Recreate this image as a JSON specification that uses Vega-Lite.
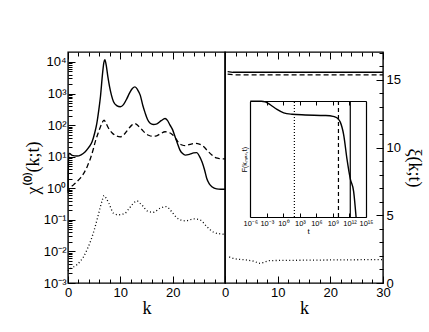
{
  "$schema": "https://vega.github.io/schema/vega-lite/v6.json",
  "padding": {"left": 23, "top": 50, "right": 5, "bottom": 5},
  "background": "white",
  "datasets": {
    "chi": [
      {"k": 0.0, "v": 0.794, "s": "a"}, {"k": 0.15, "v": 12.02, "s": "a"}, {"k": 0.3, "v": 12.59, "s": "a"}, {"k": 0.8, "v": 10.96, "s": "a"},
      {"k": 1.7, "v": 10.47, "s": "a"}, {"k": 2.5, "v": 11.48, "s": "a"}, {"k": 3.3, "v": 14.45, "s": "a"}, {"k": 4.0, "v": 19.95, "s": "a"},
      {"k": 4.6, "v": 29.51, "s": "a"}, {"k": 5.1, "v": 56.23, "s": "a"}, {"k": 5.5, "v": 112.2, "s": "a"}, {"k": 5.9, "v": 316.2, "s": "a"},
      {"k": 6.2, "v": 794.3, "s": "a"}, {"k": 6.6, "v": 4266, "s": "a"}, {"k": 6.85, "v": 9550, "s": "a"}, {"k": 7.05, "v": 11749, "s": "a"},
      {"k": 7.3, "v": 7943, "s": "a"}, {"k": 7.6, "v": 3548, "s": "a"}, {"k": 7.95, "v": 1622, "s": "a"}, {"k": 8.3, "v": 891.3, "s": "a"},
      {"k": 8.7, "v": 549.5, "s": "a"}, {"k": 9.3, "v": 416.9, "s": "a"}, {"k": 10.0, "v": 380.2, "s": "a"}, {"k": 10.6, "v": 446.7, "s": "a"},
      {"k": 11.25, "v": 691.8, "s": "a"}, {"k": 11.8, "v": 1072, "s": "a"}, {"k": 12.3, "v": 1445, "s": "a"}, {"k": 12.8, "v": 1622, "s": "a"},
      {"k": 13.3, "v": 1318, "s": "a"}, {"k": 13.8, "v": 891.3, "s": "a"}, {"k": 14.3, "v": 416.9, "s": "a"}, {"k": 14.75, "v": 239.9, "s": "a"},
      {"k": 15.2, "v": 151.4, "s": "a"}, {"k": 15.7, "v": 114.8, "s": "a"}, {"k": 16.3, "v": 104.7, "s": "a"}, {"k": 17.0, "v": 109.6, "s": "a"},
      {"k": 17.8, "v": 138.0, "s": "a"}, {"k": 18.55, "v": 162.2, "s": "a"}, {"k": 19.0, "v": 141.3, "s": "a"}, {"k": 19.5, "v": 100, "s": "a"},
      {"k": 20.0, "v": 70.79, "s": "a"}, {"k": 20.46, "v": 42.66, "s": "a"}, {"k": 21.0, "v": 23.99, "s": "a"}, {"k": 21.4, "v": 16.22, "s": "a"},
      {"k": 21.9, "v": 12.59, "s": "a"}, {"k": 22.4, "v": 11.22, "s": "a"}, {"k": 23.3, "v": 12.02, "s": "a"}, {"k": 24.0, "v": 13.18, "s": "a"},
      {"k": 24.6, "v": 13.49, "s": "a"}, {"k": 25.1, "v": 10.47, "s": "a"}, {"k": 25.6, "v": 6.918, "s": "a"}, {"k": 26.1, "v": 3.802, "s": "a"},
      {"k": 26.5, "v": 2.089, "s": "a"}, {"k": 27.0, "v": 1.38, "s": "a"}, {"k": 27.5, "v": 1.122, "s": "a"}, {"k": 28.4, "v": 0.955, "s": "a"},
      {"k": 29.2, "v": 0.933, "s": "a"}, {"k": 30.0, "v": 0.933, "s": "a"},
      {"k": 0.0, "v": 0.708, "s": "b"}, {"k": 0.3, "v": 1.0, "s": "b"}, {"k": 1.0, "v": 1.259, "s": "b"}, {"k": 1.7, "v": 1.622, "s": "b"},
      {"k": 2.4, "v": 2.138, "s": "b"}, {"k": 3.0, "v": 2.951, "s": "b"}, {"k": 3.7, "v": 5.012, "s": "b"}, {"k": 4.3, "v": 8.913, "s": "b"},
      {"k": 4.8, "v": 16.6, "s": "b"}, {"k": 5.2, "v": 29.51, "s": "b"}, {"k": 5.7, "v": 52.48, "s": "b"}, {"k": 6.2, "v": 89.13, "s": "b"},
      {"k": 6.6, "v": 125.9, "s": "b"}, {"k": 6.9, "v": 144.5, "s": "b"}, {"k": 7.2, "v": 120.2, "s": "b"}, {"k": 7.8, "v": 77.62, "s": "b"},
      {"k": 8.4, "v": 57.54, "s": "b"}, {"k": 9.0, "v": 47.86, "s": "b"}, {"k": 10.0, "v": 42.66, "s": "b"}, {"k": 10.8, "v": 52.48, "s": "b"},
      {"k": 11.6, "v": 77.62, "s": "b"}, {"k": 12.2, "v": 100, "s": "b"}, {"k": 12.8, "v": 112.2, "s": "b"}, {"k": 13.4, "v": 95.5, "s": "b"},
      {"k": 14.1, "v": 72.44, "s": "b"}, {"k": 14.8, "v": 54.95, "s": "b"}, {"k": 15.4, "v": 47.86, "s": "b"}, {"k": 16.0, "v": 44.67, "s": "b"},
      {"k": 16.7, "v": 44.67, "s": "b"}, {"k": 17.6, "v": 52.48, "s": "b"}, {"k": 18.55, "v": 61.66, "s": "b"}, {"k": 19.2, "v": 58.88, "s": "b"},
      {"k": 19.8, "v": 52.48, "s": "b"}, {"k": 20.5, "v": 39.81, "s": "b"}, {"k": 21.1, "v": 28.18, "s": "b"}, {"k": 21.8, "v": 23.44, "s": "b"},
      {"k": 22.4, "v": 22.39, "s": "b"}, {"k": 23.3, "v": 24.55, "s": "b"}, {"k": 24.3, "v": 26.3, "s": "b"}, {"k": 25.1, "v": 25.12, "s": "b"},
      {"k": 25.9, "v": 20.89, "s": "b"}, {"k": 26.7, "v": 15.14, "s": "b"}, {"k": 27.5, "v": 11.22, "s": "b"}, {"k": 28.1, "v": 9.55, "s": "b"},
      {"k": 28.7, "v": 8.913, "s": "b"}, {"k": 29.4, "v": 8.511, "s": "b"}, {"k": 30.0, "v": 8.511, "s": "b"},
      {"k": 0.0, "v": 0.0024, "s": "c"}, {"k": 0.45, "v": 0.00282, "s": "c"}, {"k": 1.7, "v": 0.0038, "s": "c"}, {"k": 2.4, "v": 0.00501, "s": "c"},
      {"k": 3.0, "v": 0.00692, "s": "c"}, {"k": 3.7, "v": 0.012, "s": "c"}, {"k": 4.3, "v": 0.0209, "s": "c"}, {"k": 5.2, "v": 0.0617, "s": "c"},
      {"k": 5.7, "v": 0.126, "s": "c"}, {"k": 6.2, "v": 0.263, "s": "c"}, {"k": 6.6, "v": 0.447, "s": "c"}, {"k": 6.9, "v": 0.589, "s": "c"},
      {"k": 7.3, "v": 0.479, "s": "c"}, {"k": 7.8, "v": 0.339, "s": "c"}, {"k": 8.7, "v": 0.162, "s": "c"}, {"k": 9.7, "v": 0.145, "s": "c"},
      {"k": 10.9, "v": 0.162, "s": "c"}, {"k": 11.6, "v": 0.219, "s": "c"}, {"k": 12.2, "v": 0.295, "s": "c"}, {"k": 13.2, "v": 0.398, "s": "c"},
      {"k": 13.8, "v": 0.331, "s": "c"}, {"k": 14.4, "v": 0.263, "s": "c"}, {"k": 15.1, "v": 0.191, "s": "c"}, {"k": 16.3, "v": 0.174, "s": "c"},
      {"k": 17.6, "v": 0.234, "s": "c"}, {"k": 18.7, "v": 0.263, "s": "c"}, {"k": 19.3, "v": 0.229, "s": "c"}, {"k": 19.8, "v": 0.182, "s": "c"},
      {"k": 21.1, "v": 0.107, "s": "c"}, {"k": 22.4, "v": 0.0933, "s": "c"}, {"k": 24.0, "v": 0.107, "s": "c"}, {"k": 25.2, "v": 0.1, "s": "c"},
      {"k": 26.5, "v": 0.0617, "s": "c"}, {"k": 27.8, "v": 0.0407, "s": "c"}, {"k": 29.4, "v": 0.0355, "s": "c"}, {"k": 30.0, "v": 0.0347, "s": "c"}
    ],
    "xi": [
      {"k": 0.5, "v": 15.6, "s": "a"}, {"k": 1.5, "v": 15.55, "s": "a"}, {"k": 30.0, "v": 15.55, "s": "a"},
      {"k": 0.5, "v": 15.42, "s": "b"}, {"k": 2.0, "v": 15.36, "s": "b"}, {"k": 30.0, "v": 15.36, "s": "b"},
      {"k": 0.8, "v": 1.92, "s": "c"}, {"k": 2.0, "v": 1.78, "s": "c"}, {"k": 4.0, "v": 1.7, "s": "c"}, {"k": 5.5, "v": 1.6, "s": "c"},
      {"k": 6.7, "v": 1.45, "s": "c"}, {"k": 7.5, "v": 1.55, "s": "c"}, {"k": 8.5, "v": 1.65, "s": "c"}, {"k": 12.0, "v": 1.67, "s": "c"},
      {"k": 20.0, "v": 1.7, "s": "c"}, {"k": 30.0, "v": 1.73, "s": "c"}
    ],
    "F": [
      {"t": 1e-6, "F": 1.0}, {"t": 1e-4, "F": 1.0}, {"t": 5.25e-4, "F": 0.995}, {"t": 4.27e-3, "F": 0.97},
      {"t": 0.0708, "F": 0.93}, {"t": 1.148, "F": 0.9}, {"t": 37.15, "F": 0.888}, {"t": 9550, "F": 0.882},
      {"t": 3.98e7, "F": 0.877}, {"t": 1e9, "F": 0.87}, {"t": 2.69e9, "F": 0.864}, {"t": 1e10, "F": 0.845},
      {"t": 2.14e10, "F": 0.82}, {"t": 8.91e10, "F": 0.71}, {"t": 3.55e11, "F": 0.5}, {"t": 1.41e12, "F": 0.33},
      {"t": 5.75e12, "F": 0.22}, {"t": 1.58e13, "F": 0.0}
    ],
    "tm": [
      {"t": 100, "s": "dot"}, {"t": 1e10, "s": "dash"}, {"t": 1.4e12, "s": "solid"}
    ]
  },
  "hconcat": [
    {
      "width": 157,
      "height": 231,
      "data": {"name": "chi"},
      "layer": [
        {
          "transform": [{"filter": "datum.s == 'a'"}],
          "mark": {"type": "line", "color": "#000", "strokeWidth": 1.4, "interpolate": "monotone"},
          "encoding": {
            "x": {"field": "k", "type": "quantitative", "scale": {"domain": [0, 30], "nice": false},
                  "axis": {"orient": "bottom", "values": [0, 10, 20], "ticks": false, "title": "k", "labelFlush": false, "labelPadding": 3, "titlePadding": 0}},
            "y": {"field": "v", "type": "quantitative", "scale": {"type": "log", "domain": [0.001, 20700], "nice": false},
                  "axis": {"orient": "left", "values": [0.001, 0.01, 0.1, 1, 10, 100, 1000, 10000], "ticks": false, "labelPadding": 2, "titlePadding": 1,
                           "labelExpr": "datum.value < 0.005 ? '10⁻³' : datum.value < 0.05 ? '10⁻²' : datum.value < 0.5 ? '10⁻¹' : datum.value < 5 ? '10⁰' : datum.value < 50 ? '10¹' : datum.value < 500 ? '10²' : datum.value < 5000 ? '10³' : '10⁴'",
                           "title": "χ⁽⁰⁾(k;t)"}}
          }
        },
        {
          "transform": [{"filter": "datum.s == 'b'"}],
          "mark": {"type": "line", "color": "#000", "strokeWidth": 1.3, "strokeDash": [5, 3], "interpolate": "monotone"},
          "encoding": {
            "x": {"field": "k", "type": "quantitative", "axis": {"orient": "bottom", "values": [0, 10, 20, 30], "tickSize": -7, "labels": false, "title": null}},
            "y": {"field": "v", "type": "quantitative", "axis": {"orient": "left", "values": [0.001, 0.01, 0.1, 1, 10, 100, 1000, 10000], "tickSize": -7, "labels": false, "title": null}}
          }
        },
        {
          "transform": [{"filter": "datum.s == 'c'"}],
          "mark": {"type": "line", "color": "#000", "strokeWidth": 1.3, "strokeDash": [1, 2.4], "interpolate": "monotone"},
          "encoding": {
            "x": {"field": "k", "type": "quantitative", "axis": {"orient": "bottom", "values": [2, 4, 6, 8, 12, 14, 16, 18, 22, 24, 26, 28], "tickSize": -4, "labels": false, "title": null}},
            "y": {"field": "v", "type": "quantitative", "axis": {"orient": "left", "tickSize": -4, "labels": false, "title": null,
                  "values": [0.002, 0.003, 0.004, 0.005, 0.006, 0.007, 0.008, 0.009, 0.02, 0.03, 0.04, 0.05, 0.06, 0.07, 0.08, 0.09, 0.2, 0.3, 0.4, 0.5, 0.6, 0.7, 0.8, 0.9, 2, 3, 4, 5, 6, 7, 8, 9, 20, 30, 40, 50, 60, 70, 80, 90, 200, 300, 400, 500, 600, 700, 800, 900, 2000, 3000, 4000, 5000, 6000, 7000, 8000, 9000]}}
          }
        },
        {
          "transform": [{"filter": "datum.s == 'z'"}],
          "mark": {"type": "line", "color": "#000"},
          "encoding": {
            "x": {"field": "k", "type": "quantitative", "axis": {"orient": "top", "values": [0, 10, 20, 30], "tickSize": -7, "labels": false, "title": null}},
            "y": {"field": "v", "type": "quantitative", "axis": null}
          }
        },
        {
          "transform": [{"filter": "datum.s == 'z'"}],
          "mark": {"type": "line", "color": "#000"},
          "encoding": {
            "x": {"field": "k", "type": "quantitative", "axis": {"orient": "top", "values": [2, 4, 6, 8, 12, 14, 16, 18, 22, 24, 26, 28], "tickSize": -4, "labels": false, "title": null}},
            "y": {"field": "v", "type": "quantitative", "axis": null}
          }
        }
      ],
      "resolve": {"axis": {"x": "independent", "y": "independent"}}
    },
    {
      "width": 158,
      "height": 231,
      "layer": [
        {
          "data": {"name": "xi"},
          "transform": [{"filter": "datum.s == 'a'"}],
          "mark": {"type": "line", "color": "#000", "strokeWidth": 1.4},
          "encoding": {
            "x": {"field": "k", "type": "quantitative", "scale": {"domain": [0, 30], "nice": false},
                  "axis": {"orient": "bottom", "values": [0, 10, 20, 30], "ticks": false, "title": "k", "labelFlush": false, "labelPadding": 3, "titlePadding": 0}},
            "y": {"field": "v", "type": "quantitative", "scale": {"domain": [0, 17.05], "nice": false},
                  "axis": {"orient": "right", "values": [0, 5, 10, 15], "ticks": false, "title": "ξ(k;t)", "labelPadding": 3, "titlePadding": 4}}
          }
        },
        {
          "data": {"name": "xi"},
          "transform": [{"filter": "datum.s == 'b'"}],
          "mark": {"type": "line", "color": "#000", "strokeWidth": 1.3, "strokeDash": [5, 3]},
          "encoding": {
            "x": {"field": "k", "type": "quantitative", "scale": {"domain": [0, 30], "nice": false},
                  "axis": {"orient": "bottom", "values": [0, 10, 20, 30], "tickSize": -7, "labels": false, "title": null}},
            "y": {"field": "v", "type": "quantitative", "scale": {"domain": [0, 17.05], "nice": false},
                  "axis": {"orient": "right", "values": [0, 5, 10, 15], "tickSize": -7, "labels": false, "title": null}}
          }
        },
        {
          "data": {"name": "xi"},
          "transform": [{"filter": "datum.s == 'c'"}],
          "mark": {"type": "line", "color": "#000", "strokeWidth": 1.3, "strokeDash": [1, 2.4], "interpolate": "monotone"},
          "encoding": {
            "x": {"field": "k", "type": "quantitative", "scale": {"domain": [0, 30], "nice": false},
                  "axis": {"orient": "bottom", "values": [2, 4, 6, 8, 12, 14, 16, 18, 22, 24, 26, 28], "tickSize": -4, "labels": false, "title": null}},
            "y": {"field": "v", "type": "quantitative", "scale": {"domain": [0, 17.05], "nice": false},
                  "axis": {"orient": "right", "values": [1, 2, 3, 4, 6, 7, 8, 9, 11, 12, 13, 14, 16, 17], "tickSize": -4, "labels": false, "title": null}}
          }
        },
        {
          "data": {"name": "xi"},
          "transform": [{"filter": "datum.s == 'z'"}],
          "mark": {"type": "line", "color": "#000"},
          "encoding": {
            "x": {"field": "k", "type": "quantitative", "scale": {"domain": [0, 30], "nice": false},
                  "axis": {"orient": "top", "values": [0, 10, 20, 30], "tickSize": -7, "labels": false, "title": null}},
            "y": {"field": "v", "type": "quantitative", "scale": {"domain": [0, 17.05], "nice": false}, "axis": null}
          }
        },
        {
          "data": {"name": "xi"},
          "transform": [{"filter": "datum.s == 'z'"}],
          "mark": {"type": "line", "color": "#000"},
          "encoding": {
            "x": {"field": "k", "type": "quantitative", "scale": {"domain": [0, 30], "nice": false},
                  "axis": {"orient": "top", "values": [2, 4, 6, 8, 12, 14, 16, 18, 22, 24, 26, 28], "tickSize": -4, "labels": false, "title": null}},
            "y": {"field": "v", "type": "quantitative", "scale": {"domain": [0, 17.05], "nice": false}, "axis": null}
          }
        },
        {
          "data": {"name": "F"},
          "mark": {"type": "line", "color": "#000", "strokeWidth": 1.4, "interpolate": "monotone"},
          "encoding": {
            "x": {"field": "t", "type": "quantitative", "scale": {"type": "log", "domain": [1e-6, 1e15], "range": [25.3, 141], "nice": false},
                  "axis": {"orient": "bottom", "offset": -66, "values": [1e-6, 1e-3, 1, 1e3, 1e6, 1e9, 1e12, 1e15], "ticks": false, "domain": true, "domainColor": "#000", "domainWidth": 1.2,
                           "labelFontSize": 7.5, "labelPadding": 2, "labelFlush": false, "labelOverlap": false, "labelBound": false,
                           "labelExpr": "datum.value < 1e-4 ? '10⁻⁶' : datum.value < 0.1 ? '10⁻³' : datum.value < 100 ? '10⁰' : datum.value < 1e5 ? '10³' : datum.value < 1e8 ? '10⁶' : datum.value < 1e11 ? '10⁹' : datum.value < 1e14 ? '10¹²' : '10¹⁵'",
                           "title": "t", "titleFont": "Liberation Sans", "titleFontSize": 8, "titlePadding": 1}},
            "y": {"field": "F", "type": "quantitative", "scale": {"domain": [0, 1], "range": [165, 49.3], "nice": false},
                  "axis": {"orient": "left", "offset": -25, "labels": false, "ticks": false, "domain": true, "domainColor": "#000", "domainWidth": 1.2,
                           "title": "F(kₘₐₓ,t)", "titleFont": "Liberation Sans", "titleFontSize": 7, "titlePadding": 3}}
          }
        },
        {
          "data": {"name": "tm"},
          "mark": {"type": "rule", "color": "#000", "strokeWidth": 1.2},
          "encoding": {
            "x": {"field": "t", "type": "quantitative", "scale": {"type": "log", "domain": [1e-6, 1e15], "range": [25.3, 141], "nice": false},
                  "axis": {"orient": "top", "offset": -49, "values": [1e-6, 1e-3, 1, 1e3, 1e6, 1e9, 1e12, 1e15], "tickSize": -4, "labels": false, "domain": true, "domainColor": "#000", "domainWidth": 1.2, "title": null}},
            "y": {"datum": 0, "type": "quantitative", "scale": {"domain": [0, 1], "range": [165, 49.3], "nice": false},
                  "axis": {"orient": "right", "offset": -17, "labels": false, "ticks": false, "domain": true, "domainColor": "#000", "domainWidth": 1.2, "title": null}},
            "y2": {"datum": 1},
            "strokeDash": {"field": "s", "type": "nominal", "scale": {"domain": ["dot", "dash", "solid"], "range": [[1, 2], [4, 3], [1, 0]]}, "legend": null}
          }
        },
        {
          "data": {"name": "F"},
          "transform": [{"filter": "datum.F > 5"}],
          "mark": {"type": "line", "color": "#000"},
          "encoding": {
            "x": {"field": "t", "type": "quantitative", "scale": {"type": "log", "domain": [1e-6, 1e15], "range": [25.3, 141], "nice": false},
                  "axis": {"orient": "bottom", "offset": -66, "values": [1e-6, 1e-3, 1, 1e3, 1e6, 1e9, 1e12, 1e15], "tickSize": -4, "labels": false, "domain": false, "title": null}},
            "y": {"field": "F", "type": "quantitative", "scale": {"domain": [0, 1], "range": [165, 49.3], "nice": false}, "axis": null}
          }
        }
      ],
      "resolve": {
        "scale": {"x": "independent", "y": "independent"},
        "axis": {"x": "independent", "y": "independent"}
      }
    }
  ],
  "spacing": 0,
  "bounds": "flush",
  "config": {
    "view": {"stroke": "#000", "strokeWidth": 1.4},
    "axis": {
      "domain": false, "grid": false,
      "labelFont": "Liberation Sans", "labelFontSize": 13, "labelColor": "#000",
      "tickColor": "#000", "tickWidth": 1,
      "titleFont": "Liberation Serif", "titleFontSize": 18, "titleFontWeight": "normal", "titleColor": "#000"
    }
  }
}
